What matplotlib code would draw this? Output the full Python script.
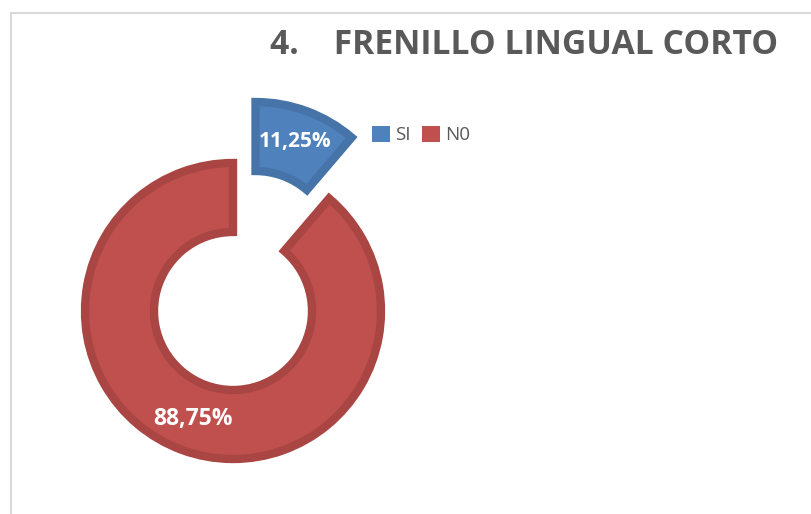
import matplotlib.pyplot as plt
from matplotlib.lines import Line2D
from matplotlib.patches import Patch

categories = ['SI', 'N0']
values = [11.25, 88.75]
colors = ['#4F81BD', '#C0504D']
edges = ['#4673A8', '#A94542']
title = '4.    FRENILLO LINGUAL CORTO'

W, H = 812, 514
fig = plt.figure(figsize=(W / 100, H / 100), dpi=100)
ax = fig.add_axes([0, 0, 1, 1])
ax.set_xlim(0, W)
ax.set_ylim(0, H)
ax.set_aspect('equal')
ax.axis('off')

# donut, SI slice pulled out (explode is in data units here)
wedges, texts, autotexts = ax.pie(
    values, colors=colors, startangle=90, counterclock=False,
    center=(233, H - 311), radius=148, explode=[65, 0],
    autopct=lambda p: f'{p:.2f}%'.replace('.', ','), pctdistance=0.78,
    wedgeprops=dict(width=69, linewidth=6),
    textprops=dict(color='white', fontsize=15, fontweight='bold', family='Open Sans'))
for w, e in zip(wedges, edges):
    w.set_edgecolor(e)
    w.set_joinstyle('miter')
autotexts[1].set_fontsize(16.5)
ax.set_xlim(0, W)
ax.set_ylim(0, H)

# chart frame
fig.add_artist(Line2D([11 / W, 11 / W], [0, 1 - 13 / H], color='#D9D9D9', lw=1.5))
fig.add_artist(Line2D([11 / W, 1], [1 - 13 / H, 1 - 13 / H], color='#D9D9D9', lw=1.5))

fig.text(778 / W, 1 - 45 / H, title, ha='right', va='center', fontsize=24.2,
         fontweight='bold', color='#595959', family='Open Sans')

handles = [Patch(facecolor=c, edgecolor='none') for c in colors]
fig.legend(handles, categories, loc='center left', bbox_to_anchor=(355 / W, 1 - 135 / H),
           ncol=2, frameon=False, handlelength=0.95, handleheight=0.95,
           handletextpad=0.3, columnspacing=0.6, labelcolor='#595959',
           prop=dict(family='Open Sans', size=13.5))

fig.savefig('out.png', dpi=100, facecolor='white')
